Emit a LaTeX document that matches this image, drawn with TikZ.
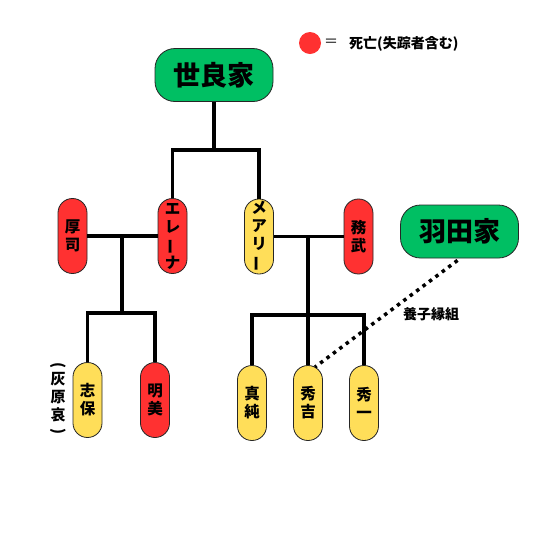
\documentclass[tikz,border=0pt]{standalone}
\usepackage{fontspec}
\setmainfont{Noto Sans CJK JP}
\usepackage{graphicx}
\definecolor{sgreen}{HTML}{00BF63}
\definecolor{sred}{HTML}{FF3131}
\definecolor{syellow}{HTML}{FFDE59}
\newcommand{\vbar}{\rotatebox[origin=c]{90}{ー}}
\tikzset{
  pill/.style={draw=black!85, line width=0.8pt, rounded corners=14.4pt,
    minimum width=29pt, minimum height=75pt, inner sep=0pt, align=center,
    font=\fontsize{15.5}{18}\selectfont\bfseries},
  redpill/.style={pill, fill=sred},
  yelpill/.style={pill, fill=syellow},
  house/.style={draw=black!85, line width=0.8pt, fill=sgreen, rounded corners=20pt,
    minimum width=118pt, minimum height=53pt, inner sep=0pt,
    font=\fontsize{27}{30}\selectfont\bfseries},
  tie/.style={line width=3.5pt, black},
  adopt/.style={line width=3.5pt, black, dash pattern=on 3.5pt off 4.5pt}
}
\begin{document}
\begin{tikzpicture}[x=1pt,y=-1pt]
\useasboundingbox[fill=white] (0,0) rectangle (540,550);
% legend
\node[circle, fill=sred, minimum size=22pt, inner sep=0pt] (legdot) at (310,43) {};
\node[font=\fontsize{14}{16}\selectfont] (legeq) at (331,43) {＝};
\node[anchor=west, font=\fontsize{14}{16}\selectfont\bfseries, inner sep=0pt] (legtxt) at (349,44) {死亡(失踪者含む)};
% houses
\node[house] (sera) at (214,75) {世良家};
\node[house] (hata) at (459.5,231.5) {羽田家};
% generation 1
\node[redpill] (atsushi) at (72.5,236) {厚\\司};
\node[redpill] (erena) at (172.5,236) {エ\\レ\\\vbar\\ナ};
\node[yelpill] (mary) at (259,236.5) {メ\\ア\\リ\\\vbar};
\node[redpill] (tsutomu) at (358.5,236.5) {務\\武};
% generation 2
\node[yelpill] (shiho) at (87.5,400) {志\\保};
\node[redpill] (akemi) at (155,400) {明\\美};
\node[yelpill] (masumi) at (252,403) {真\\純};
\node[yelpill] (hideyoshi) at (308,403) {秀\\吉};
\node[yelpill] (hideichi) at (364,403) {秀\\一};
% side note
\node[align=center, font=\fontsize{15}{18}\selectfont\bfseries, inner sep=0pt] (haibara) at (58,399)
  {\rotatebox[origin=c]{-90}{(}\\[-3pt]灰\\原\\哀\\[-3pt]\rotatebox[origin=c]{-90}{)}};
% connectors
\coordinate (j1) at (214,150);
\draw[tie] (sera.south) -- (j1);
\draw[tie] (erena.north) |- (j1) -| (mary.north);
\draw[tie] (atsushi.east) -- (erena.west);
\coordinate (j2) at (122,236);
\coordinate (j3) at (122,313);
\draw[tie] (j2) -- (j3);
\draw[tie] (shiho.north) |- (j3) -| (akemi.north);
\draw[tie] (mary.east) -- (tsutomu.west);
\coordinate (j4) at (308,236.5);
\coordinate (j5) at (308,315);
\draw[tie] (j4) -- (hideyoshi.north);
\draw[tie] (masumi.north) |- (j5) -| (hideichi.north);
\draw[adopt] ([xshift=-2pt,yshift=-2pt]hata.south) -- ([xshift=7pt,yshift=-2pt]hideyoshi.north);
\node[anchor=west, font=\fontsize{14}{16}\selectfont\bfseries, inner sep=0pt] (adoptlbl) at (403,314) {養子縁組};
\end{tikzpicture}
\end{document}
